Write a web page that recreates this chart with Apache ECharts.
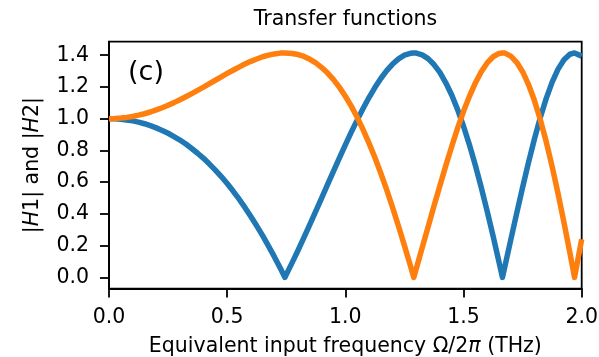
<!DOCTYPE html>
<html>
<head>
<meta charset="utf-8">
<script src="https://cdn.jsdelivr.net/npm/echarts@6/dist/echarts.min.js"></script>
<style>
  html, body { margin: 0; padding: 0; background: #ffffff; }
  #chart { width: 599px; height: 357px; }
</style>
</head>
<body>
<div id="chart"></div>
<script>
// Equivalent input frequency Ω/2π (THz)
const freq = [
  0, 0.025, 0.05, 0.075, 0.1, 0.125, 0.15, 0.175, 0.2, 0.225,
  0.25, 0.275, 0.3, 0.325, 0.35, 0.375, 0.4, 0.425, 0.45, 0.475,
  0.5, 0.525, 0.55, 0.575, 0.6, 0.625, 0.65, 0.675, 0.7, 0.725,
  0.7445, 0.75, 0.775, 0.8, 0.825, 0.85, 0.875, 0.9, 0.925, 0.95,
  0.975, 1.0, 1.025, 1.05, 1.075, 1.1, 1.125, 1.15, 1.175, 1.2,
  1.225, 1.25, 1.275, 1.2895, 1.3, 1.325, 1.35, 1.375, 1.4, 1.425,
  1.45, 1.475, 1.5, 1.525, 1.55, 1.575, 1.6, 1.625, 1.65, 1.6647,
  1.675, 1.7, 1.725, 1.75, 1.775, 1.8, 1.825, 1.85, 1.875, 1.9,
  1.925, 1.95, 1.9697, 1.975, 2.0
];

// |H1|
const h1 = [
  1.000, 0.999, 0.996, 0.992, 0.986, 0.978, 0.968, 0.956, 0.942, 0.926,
  0.908, 0.887, 0.865, 0.840, 0.812, 0.782, 0.750, 0.714, 0.676, 0.635,
  0.591, 0.544, 0.494, 0.441, 0.384, 0.325, 0.263, 0.197, 0.129, 0.057,
  0.000, 0.017, 0.093, 0.171, 0.252, 0.334, 0.417, 0.501, 0.586, 0.670,
  0.753, 0.835, 0.915, 0.991, 1.064, 1.133, 1.196, 1.253, 1.303, 1.344,
  1.377, 1.400, 1.412, 1.414, 1.413, 1.402, 1.378, 1.341, 1.291, 1.226,
  1.149, 1.057, 0.952, 0.835, 0.706, 0.566, 0.417, 0.261, 0.098, 0.000,
  0.069, 0.237, 0.404, 0.567, 0.724, 0.872, 1.007, 1.128, 1.230, 1.312,
  1.371, 1.406, 1.414, 1.414, 1.394
];

// |H2|
const h2 = [
  1.000, 1.001, 1.004, 1.008, 1.014, 1.022, 1.031, 1.042, 1.055, 1.069,
  1.085, 1.101, 1.119, 1.138, 1.158, 1.178, 1.199, 1.221, 1.242, 1.264,
  1.285, 1.305, 1.325, 1.344, 1.361, 1.376, 1.390, 1.400, 1.408, 1.413,
  1.414, 1.414, 1.411, 1.404, 1.392, 1.374, 1.351, 1.322, 1.287, 1.246,
  1.197, 1.141, 1.079, 1.009, 0.931, 0.846, 0.755, 0.656, 0.551, 0.439,
  0.322, 0.200, 0.075, 0.000, 0.054, 0.186, 0.317, 0.449, 0.578, 0.704,
  0.825, 0.940, 1.046, 1.141, 1.225, 1.296, 1.351, 1.390, 1.411, 1.414,
  1.413, 1.394, 1.355, 1.296, 1.215, 1.114, 0.993, 0.854, 0.698, 0.528,
  0.346, 0.155, 0.000, 0.042, 0.240
];

const xTicks = [0, 0.5, 1.0, 1.5, 2.0];
const yTicks = [0, 0.2, 0.4, 0.6, 0.8, 1.0, 1.2, 1.4];

const FONT = 'DejaVu Sans';
const FS = 20.5;
const INK = '#000000';
const BLUE = '#1f77b4';
const ORANGE = '#ff7f0e';

const chart = echarts.init(document.getElementById('chart'), null, { renderer: 'canvas' });

const italic = { fontFamily: FONT, fontSize: FS, fontStyle: 'italic', color: INK };

chart.setOption({
  animation: false,
  backgroundColor: '#ffffff',
  grid: {
    left: 109, right: 17.3, top: 41.7, bottom: 68.4,
    containLabel: false, outerBoundsMode: 'none',
    show: true, borderColor: INK, borderWidth: 1.8, backgroundColor: 'transparent'
  },
  graphic: [
    {
      type: 'text', x: 345.5, y: 19.5, silent: true,
      style: { text: 'Transfer functions', font: FS + 'px "DejaVu Sans"', fill: INK,
               align: 'center', verticalAlign: 'middle' }
    },
    {
      type: 'text', x: 128, y: 72.5, silent: true,
      style: { text: '(c)', font: '27px "DejaVu Sans"', fill: INK,
               align: 'left', verticalAlign: 'middle' }
    }
  ],
  xAxis: {
    type: 'value',
    min: 0, max: 2,
    name: 'Equivalent input frequency Ω/2{i|π} (THz)',
    nameLocation: 'middle',
    nameGap: 48,
    nameTextStyle: { fontFamily: FONT, fontSize: FS, color: INK, rich: { i: italic } },
    axisLine: { show: true, onZero: false, lineStyle: { color: INK, width: 1.8 } },
    axisTick: { show: true, inside: false, length: 9, customValues: xTicks,
                lineStyle: { color: INK, width: 1.8 } },
    axisLabel: { show: true, customValues: xTicks, margin: 19,
                 fontFamily: FONT, fontSize: FS, color: INK,
                 formatter: v => v.toFixed(1) },
    splitLine: { show: false }
  },
  yAxis: {
    type: 'value',
    min: -0.0707, max: 1.4849,
    name: '|{i|H}1| and |{i|H}2|',
    nameLocation: 'middle',
    nameGap: 66,
    nameRotate: 90,
    nameTextStyle: { fontFamily: FONT, fontSize: FS, color: INK, rich: { i: italic } },
    axisLine: { show: true, onZero: false, lineStyle: { color: INK, width: 1.8 } },
    axisTick: { show: true, inside: false, length: 9, customValues: yTicks,
                lineStyle: { color: INK, width: 1.8 } },
    axisLabel: { show: true, customValues: yTicks, margin: 20,
                 fontFamily: FONT, fontSize: FS, color: INK,
                 formatter: v => v.toFixed(1) },
    splitLine: { show: false }
  },
  series: [
    {
      name: '|H1|', type: 'line', showSymbol: false, symbol: 'none', clip: true,
      data: freq.map((f, i) => [f, h1[i]]),
      lineStyle: { color: BLUE, width: 5.5, join: 'round', cap: 'butt' },
      itemStyle: { color: BLUE }, z: 2
    },
    {
      name: '|H2|', type: 'line', showSymbol: false, symbol: 'none', clip: true,
      data: freq.map((f, i) => [f, h2[i]]),
      lineStyle: { color: ORANGE, width: 5.5, join: 'round', cap: 'butt' },
      itemStyle: { color: ORANGE }, z: 3
    }
  ]
});
</script>
</body>
</html>
